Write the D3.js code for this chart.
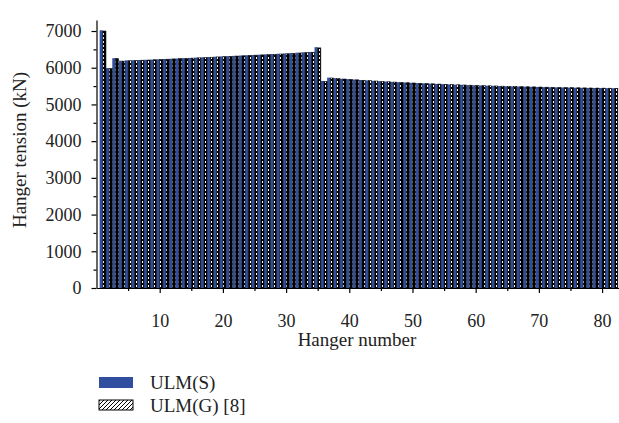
<!DOCTYPE html>
<html>
<head>
<meta charset="utf-8">
<script src="https://cdn.jsdelivr.net/npm/d3@7"></script>
<style>
  body { margin: 0; background: #fff; }
  text { font-family: "Liberation Serif", "Times New Roman", serif; fill: #222; }
</style>
</head>
<body>
<div id="chart"></div>
<script>
// hanger tension bar chart
var hangers = d3.range(1, 83)

// ULM(S) values (kN)
var ulmS = [7020, 5990, 6260, 6190, 6200, 6205, 6210, 6215, 6222, 6230,
  6238, 6245, 6252, 6260, 6268, 6276, 6284, 6292, 6300, 6308,
  6316, 6324, 6332, 6340, 6348, 6356, 6364, 6372, 6380, 6390,
  6400, 6410, 6420, 6430, 6560, 5640, 5730, 5715, 5700, 5690,
  5678, 5666, 5655, 5644, 5634, 5624, 5615, 5606, 5598, 5590,
  5582, 5574, 5567, 5560, 5553, 5546, 5540, 5534, 5528, 5522,
  5516, 5511, 5506, 5501, 5496, 5492, 5488, 5484, 5480, 5476,
  5472, 5468, 5465, 5462, 5459, 5456, 5453, 5450, 5448, 5446,
  5444, 5442]

// ULM(G) [8] values (kN)
var ulmG = [7000, 5980, 6250, 6180, 6190, 6198, 6205, 6210, 6218, 6225,
  6232, 6240, 6248, 6255, 6262, 6270, 6278, 6286, 6294, 6302,
  6310, 6318, 6326, 6334, 6342, 6350, 6358, 6366, 6374, 6382,
  6392, 6402, 6412, 6422, 6540, 5630, 5720, 5705, 5692, 5680,
  5670, 5658, 5648, 5638, 5628, 5618, 5609, 5600, 5592, 5584,
  5576, 5569, 5562, 5555, 5548, 5542, 5536, 5530, 5524, 5518,
  5513, 5508, 5503, 5498, 5494, 5490, 5486, 5482, 5478, 5474,
  5470, 5466, 5463, 5460, 5457, 5454, 5451, 5448, 5446, 5444,
  5442, 5440]

var yTicks = [0, 1000, 2000, 3000, 4000, 5000, 6000, 7000]
var xTicks = [10, 20, 30, 40, 50, 60, 70, 80]
var seriesNames = ["ULM(S)", "ULM(G) [8]"]

var W = 619, H = 423

var svg = d3.select("#chart")
  .append("svg")
    .attr("width", W)
    .attr("height", H)

// hatch pattern for ULM(G)
var defs = svg.append("defs")
var pat = defs.append("pattern")
  .attr("id", "hatch")
  .attr("patternUnits", "userSpaceOnUse")
  .attr("width", 3)
  .attr("height", 4)
pat.append("rect").attr("width", 3).attr("height", 4).attr("fill", "#000")
pat.append("rect").attr("x", 1).attr("y", 1).attr("width", 1).attr("height", 2).attr("fill", "#fff")

var pat2 = defs.append("pattern")
  .attr("id", "hatchLegend")
  .attr("patternUnits", "userSpaceOnUse")
  .attr("width", 4)
  .attr("height", 4)
pat2.append("rect").attr("width", 4).attr("height", 4).attr("fill", "#fff")
pat2.append("path")
  .attr("d", "M-1,1 l2,-2 M0,4 l4,-4 M3,5 l2,-2")
  .attr("stroke", "#000")
  .attr("stroke-width", 1)

var x = d3.scaleLinear().domain([0, 82.6]).range([96.5, 618.5])
var y = d3.scaleLinear().domain([0, 7300]).range([288, 20])

var step = x(1) - x(0)
var bw = step / 2

// bars
svg.append("g").selectAll("rect")
  .data(hangers)
  .enter()
  .append("rect")
    .attr("x", function(d) { return x(d) - bw; })
    .attr("y", function(d, i) { return y(ulmS[i]); })
    .attr("width", bw)
    .attr("height", function(d, i) { return y(0) - y(ulmS[i]); })
    .attr("fill", "#2f4ea0")

svg.append("g").selectAll("rect")
  .data(hangers)
  .enter()
  .append("rect")
    .attr("x", function(d) { return x(d); })
    .attr("y", function(d, i) { return y(ulmG[i]); })
    .attr("width", bw)
    .attr("height", function(d, i) { return y(0) - y(ulmG[i]); })
    .attr("fill", "url(#hatch)")
    .attr("stroke", "#111")
    .attr("stroke-width", 0.6)

// axes
svg.append("g")
  .attr("transform", "translate(0," + y(0) + ")")
  .call(d3.axisBottom(x).tickValues(xTicks).tickSize(5).tickSizeOuter(0).tickPadding(21))
svg.append("g")
  .attr("transform", "translate(0," + y(0) + ")")
  .call(d3.axisBottom(x).tickValues([5, 15, 25, 35, 45, 55, 65, 75]).tickSize(3).tickFormat("").tickSizeOuter(0))
  .select(".domain").remove()

svg.append("g")
  .attr("transform", "translate(" + x(0) + ",0)")
  .call(d3.axisLeft(y).tickValues(yTicks).tickFormat(d3.format("d")).tickSize(5).tickSizeOuter(0).tickPadding(10))
svg.append("g")
  .attr("transform", "translate(" + x(0) + ",0)")
  .call(d3.axisLeft(y).tickValues([500, 1500, 2500, 3500, 4500, 5500, 6500]).tickSize(3).tickFormat("").tickSizeOuter(0))
  .select(".domain").remove()

svg.selectAll(".tick text")
  .attr("font-family", "'Liberation Serif', serif")
  .style("font-size", "18px")
  .attr("fill", "#222")
svg.selectAll(".domain, .tick line").attr("stroke", "#000").attr("stroke-width", 1.2)

// axis titles
svg.append("text")
  .attr("x", 357)
  .attr("y", 346)
  .attr("text-anchor", "middle")
  .style("font-size", "19px")
  .text("Hanger number")

svg.append("text")
  .attr("transform", "translate(26,150) rotate(-90)")
  .attr("text-anchor", "middle")
  .style("font-size", "19px")
  .text("Hanger tension (kN)")

// legend
var legend = svg.append("g").attr("transform", "translate(99,377)")
legend.append("rect")
  .attr("width", 34).attr("height", 11)
  .attr("fill", "#2f4ea0")
legend.append("text")
  .attr("x", 51).attr("y", 12)
  .style("font-size", "19px")
  .text(seriesNames[0])
legend.append("rect")
  .attr("y", 23)
  .attr("width", 34).attr("height", 10)
  .attr("fill", "url(#hatchLegend)")
  .attr("stroke", "#000")
  .attr("stroke-width", 1)
legend.append("text")
  .attr("x", 51).attr("y", 35)
  .style("font-size", "19px")
  .text(seriesNames[1])
</script>
</body>
</html>
